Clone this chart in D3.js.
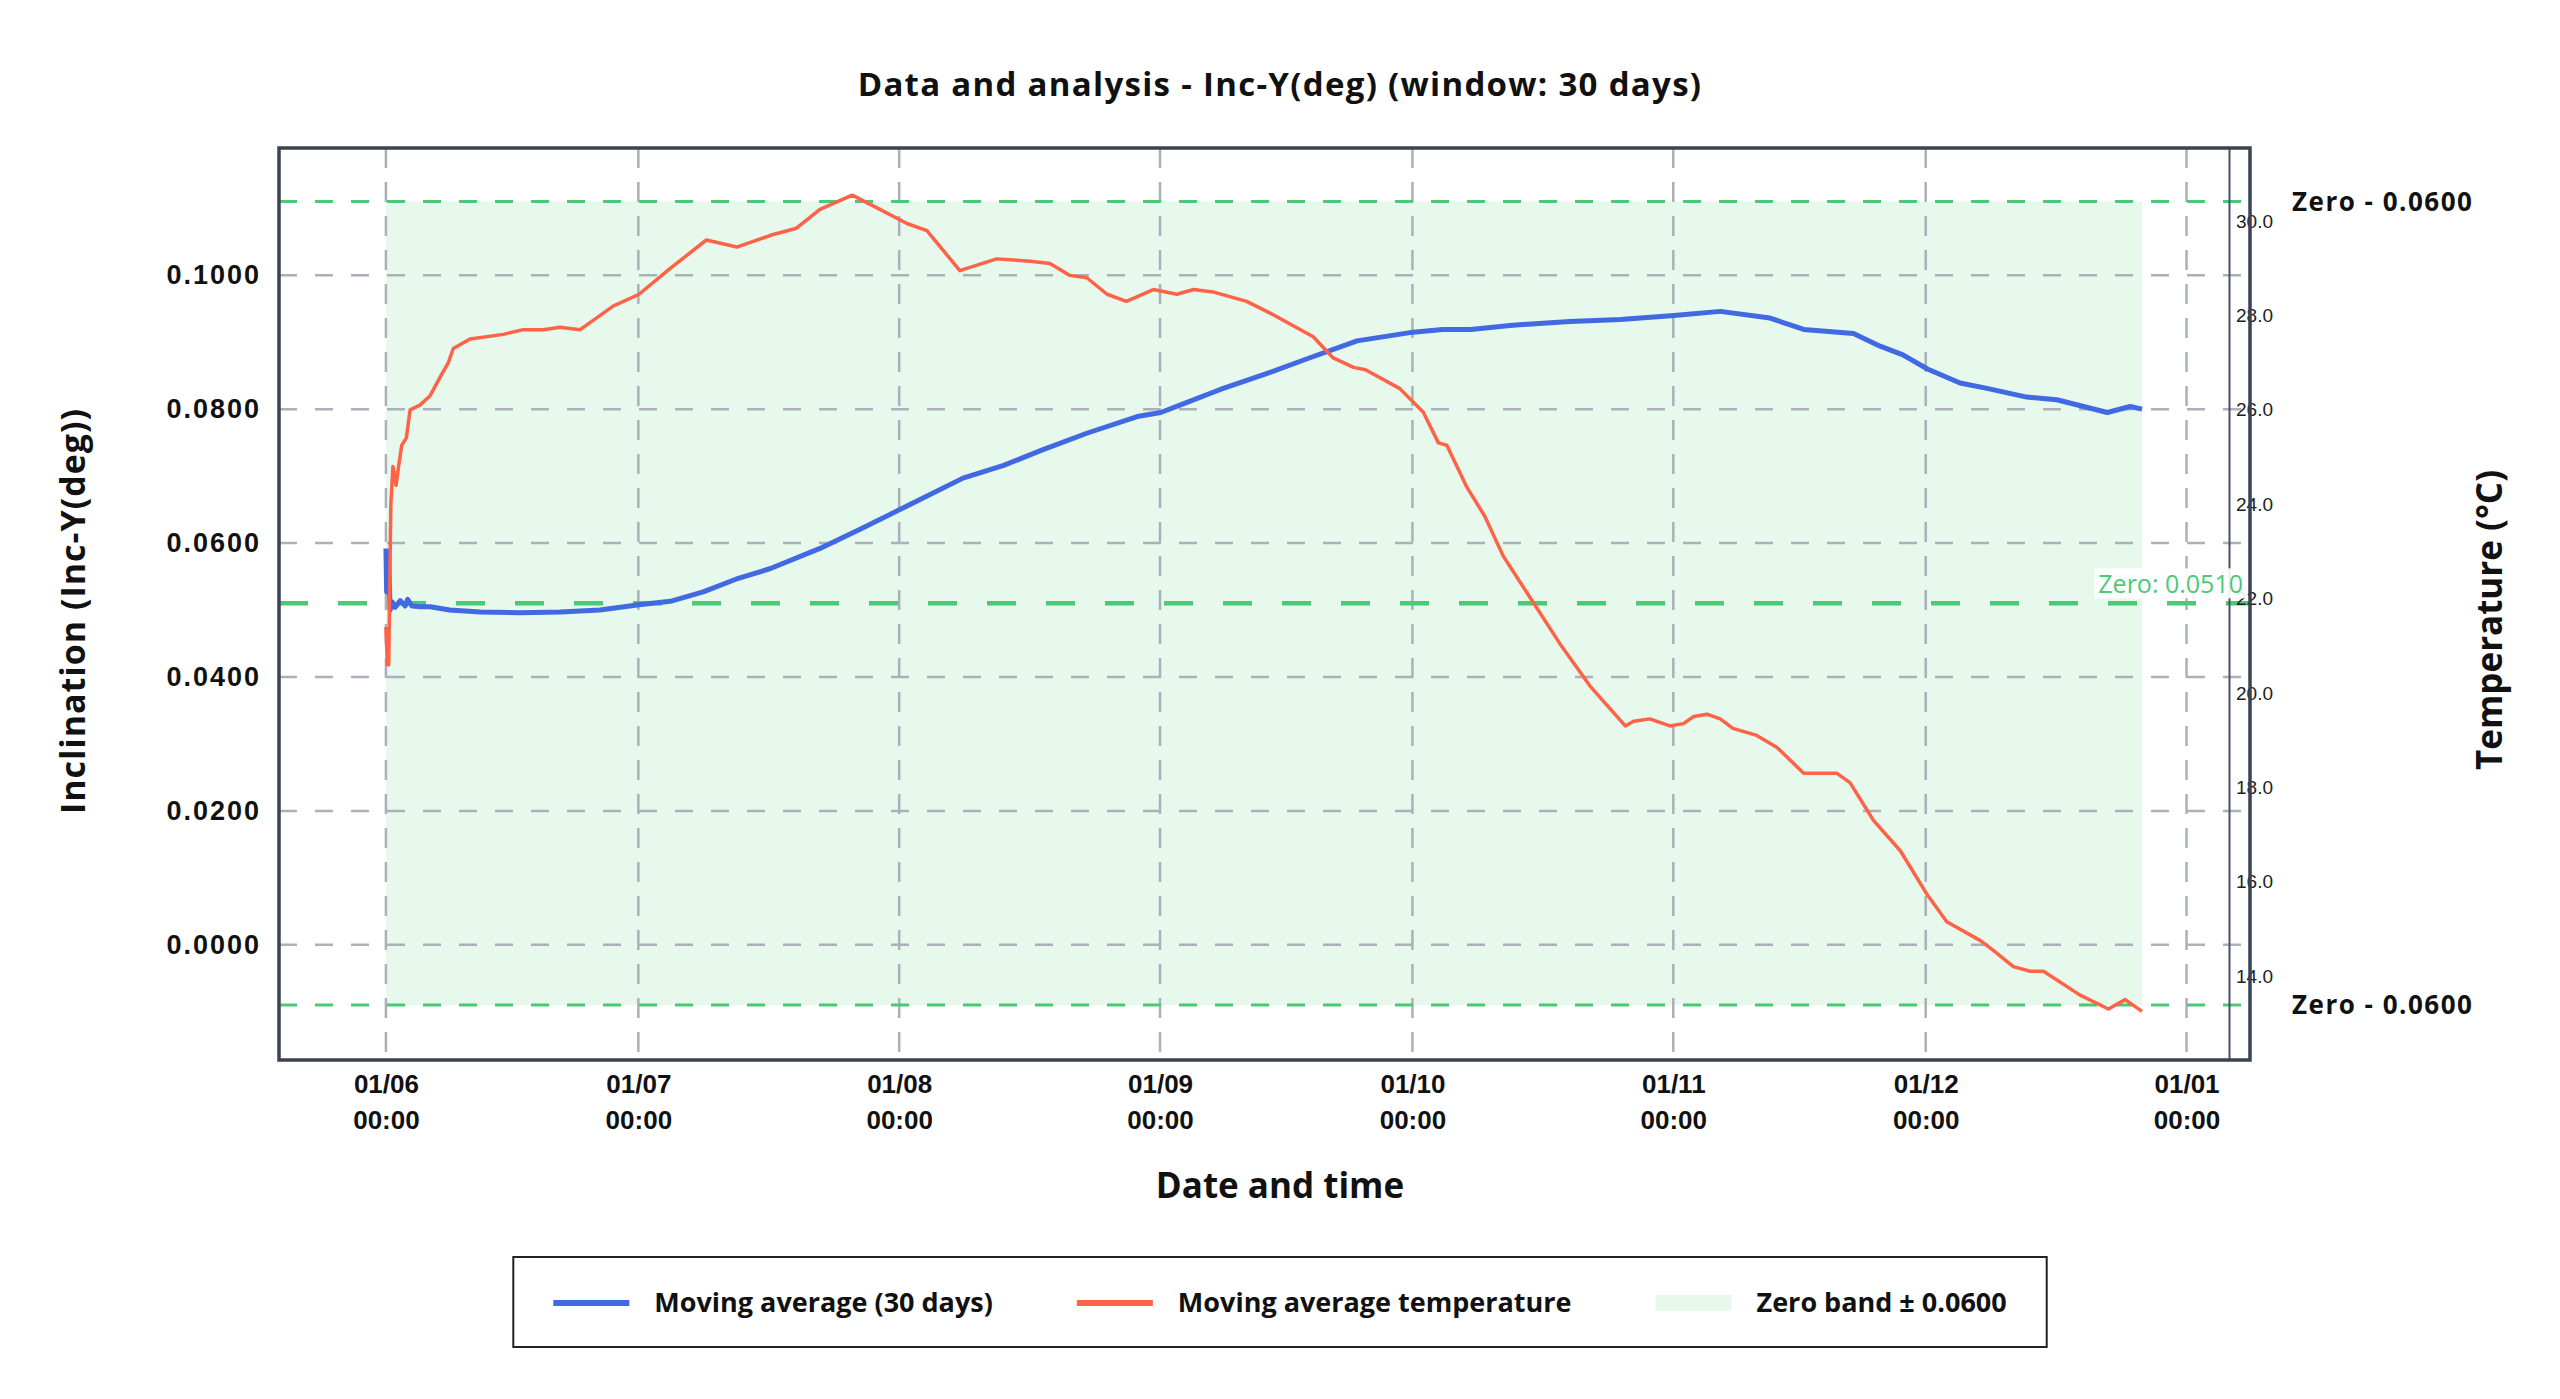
<!DOCTYPE html>
<html>
<head>
<meta charset="utf-8">
<script src="https://cdn.jsdelivr.net/npm/d3@7"></script>
<style>
  body { margin: 0; background: #fff; }
  svg { display: block; font-family: "Open Sans", sans-serif; }
</style>
</head>
<body>
<svg id="chart"></svg>
<script>
// moving average of Inc-Y (deg)
var incTimes = [
  "2024-06-01 00:00", "2024-06-01 02:00", "2024-06-01 04:00", "2024-06-01 06:00", "2024-06-01 08:00",
  "2024-06-01 12:00", "2024-06-01 18:00", "2024-06-02 02:00", "2024-06-02 17:00", "2024-06-03 07:00",
  "2024-06-03 14:00", "2024-06-04 02:00", "2024-06-05 02:00", "2024-06-06 06:00", "2024-06-08 14:00",
  "2024-06-12 05:00", "2024-06-16 22:00", "2024-06-21 17:00", "2024-06-26 10:00", "2024-07-01 02:00",
  "2024-07-04 19:00", "2024-07-08 17:00", "2024-07-12 14:00", "2024-07-16 17:00", "2024-07-22 14:00",
  "2024-07-27 10:00", "2024-08-01 02:00", "2024-08-08 14:00", "2024-08-13 10:00", "2024-08-17 19:00",
  "2024-08-23 07:00", "2024-08-29 07:00", "2024-09-01 02:00", "2024-09-04 05:00", "2024-09-08 02:00",
  "2024-09-14 02:00", "2024-09-18 00:00", "2024-09-24 10:00", "2024-10-01 02:00", "2024-10-04 14:00",
  "2024-10-07 22:00", "2024-10-12 14:00", "2024-10-19 17:00", "2024-10-25 17:00", "2024-11-01 02:00",
  "2024-11-06 14:00", "2024-11-12 12:00", "2024-11-16 12:00", "2024-11-22 10:00", "2024-11-25 14:00",
  "2024-11-28 07:00", "2024-12-01 05:00", "2024-12-05 02:00", "2024-12-08 07:00", "2024-12-13 00:00",
  "2024-12-16 14:00", "2024-12-22 14:00", "2024-12-25 07:00", "2024-12-26 17:00"
];
var incValues = [
  0.0592, 0.0527, 0.0588, 0.0530, 0.0575,
  0.0500, 0.0512, 0.0504, 0.0514, 0.0506,
  0.0516, 0.0506, 0.0505, 0.0505, 0.0500,
  0.0497, 0.0496, 0.0497, 0.0500, 0.0508,
  0.0513, 0.0527, 0.0546, 0.0562, 0.0592,
  0.0621, 0.0650, 0.0697, 0.0716, 0.0738,
  0.0764, 0.0789, 0.0795, 0.0810, 0.0829,
  0.0855, 0.0873, 0.0902, 0.0915, 0.0919,
  0.0919, 0.0925, 0.0931, 0.0934, 0.0940,
  0.0946, 0.0936, 0.0919, 0.0913, 0.0894,
  0.0881, 0.0860, 0.0839, 0.0831, 0.0818,
  0.0814, 0.0795, 0.0804, 0.0800
];

// moving average temperature (°C)
var tempTimes = [
  "2024-06-01 00:00", "2024-06-01 04:00", "2024-06-01 08:00", "2024-06-01 14:00", "2024-06-01 20:00",
  "2024-06-02 05:00", "2024-06-02 12:00", "2024-06-02 21:00", "2024-06-03 10:00", "2024-06-03 21:00",
  "2024-06-05 01:00", "2024-06-06 06:00", "2024-06-07 11:00", "2024-06-08 10:00", "2024-06-09 00:00",
  "2024-06-11 00:00", "2024-06-14 23:00", "2024-06-17 07:00", "2024-06-19 17:00", "2024-06-21 17:00",
  "2024-06-24 02:00", "2024-06-28 00:00", "2024-07-01 02:00", "2024-07-04 19:00", "2024-07-09 02:00",
  "2024-07-12 17:00", "2024-07-16 17:00", "2024-07-19 19:00", "2024-07-22 14:00", "2024-07-26 10:00",
  "2024-07-29 17:00", "2024-08-01 22:00", "2024-08-04 07:00", "2024-08-08 05:00", "2024-08-12 14:00",
  "2024-08-16 14:00", "2024-08-18 22:00", "2024-08-21 07:00", "2024-08-23 07:00", "2024-08-25 17:00",
  "2024-08-28 00:00", "2024-08-31 05:00", "2024-09-03 00:00", "2024-09-05 00:00", "2024-09-07 07:00",
  "2024-09-11 07:00", "2024-09-14 02:00", "2024-09-19 05:00", "2024-09-21 14:00", "2024-09-24 00:00",
  "2024-09-25 10:00", "2024-09-29 12:00", "2024-10-02 07:00", "2024-10-04 02:00", "2024-10-05 02:00",
  "2024-10-07 12:00", "2024-10-09 14:00", "2024-10-11 19:00", "2024-10-15 10:00", "2024-10-18 12:00",
  "2024-10-22 02:00", "2024-10-26 07:00", "2024-10-27 07:00", "2024-10-29 05:00", "2024-10-31 14:00",
  "2024-11-02 05:00", "2024-11-03 10:00", "2024-11-05 00:00", "2024-11-06 14:00", "2024-11-08 02:00",
  "2024-11-10 22:00", "2024-11-13 07:00", "2024-11-16 12:00", "2024-11-20 10:00", "2024-11-22 00:00",
  "2024-11-24 19:00", "2024-11-28 00:00", "2024-12-01 02:00", "2024-12-03 12:00", "2024-12-07 12:00",
  "2024-12-09 00:00", "2024-12-11 10:00", "2024-12-13 10:00", "2024-12-15 00:00", "2024-12-19 07:00",
  "2024-12-22 17:00", "2024-12-24 17:00", "2024-12-26 17:00"
];
var tempValues = [
  21.4, 20.6, 20.6, 24.0, 24.8,
  24.4, 24.8, 25.25, 25.4, 26.0,
  26.1, 26.3, 26.7, 27.0, 27.3,
  27.5, 27.6, 27.7, 27.7, 27.75,
  27.7, 28.2, 28.45, 29.0, 29.6,
  29.45, 29.7, 29.85, 30.25, 30.55,
  30.25, 29.95, 29.8, 28.95, 29.2,
  29.15, 29.1, 28.85, 28.8, 28.45,
  28.3, 28.55, 28.45, 28.55, 28.5,
  28.3, 28.05, 27.55, 27.1, 26.9,
  26.85, 26.45, 25.95, 25.3, 25.25,
  24.35, 23.75, 22.9, 21.9, 21.05,
  20.15, 19.3, 19.4, 19.45, 19.3,
  19.35, 19.5, 19.55, 19.45, 19.25,
  19.1, 18.85, 18.3, 18.3, 18.1,
  17.3, 16.65, 15.75, 15.15, 14.75,
  14.55, 14.2, 14.1, 14.1, 13.6,
  13.3, 13.5, 13.25
];

var incTicks = [0, 0.02, 0.04, 0.06, 0.08, 0.10];
var tempTicks = [14, 16, 18, 20, 22, 24, 26, 28, 30];
var zeroValue = 0.051,
    bandHalf = 0.06;
var timeSpan = ["2024-05-19 07:00", "2025-01-08 13:00"];
var legendLabels = ["Moving average (30 days)", "Moving average temperature", "Zero band \u00b1 0.0600"];

var width = 2560,
    height = 1399;
var plot = {left: 279, right: 2250, top: 148, bottom: 1060};

var blue = "#4169e1",
    red = "#ff6347",
    green = "#4cc877",
    bandFill = "#e7f8ed",
    gridColor = "#abb0ba",
    frameColor = "#3b4254";

var parse = d3.timeParse("%Y-%m-%d %H:%M");
var incData = incTimes.map(function(t, i) { return {t: parse(t), v: incValues[i]}; });
var tempData = tempTimes.map(function(t, i) { return {t: parse(t), v: tempValues[i]}; });

var svg = d3.select("#chart")
    .attr("width", width)
    .attr("height", height);

var x = d3.scaleTime()
    .domain(timeSpan.map(parse))
    .range([plot.left, plot.right]);

var y = d3.scaleLinear()
    .domain([-0.0172, 0.1190])
    .range([plot.bottom, plot.top]);

var yTemp = d3.scaleLinear()
    .domain([12.22, 31.55])
    .range([plot.bottom, plot.top]);

var months = x.ticks(d3.timeMonth.every(1));

// zero band, spans the data only
var first = incData[0].t,
    last = incData[incData.length - 1].t;
svg.append("rect")
    .attr("x", x(first))
    .attr("y", y(zeroValue + bandHalf))
    .attr("width", x(last) - x(first))
    .attr("height", y(zeroValue - bandHalf) - y(zeroValue + bandHalf))
    .attr("fill", bandFill);

// grid
svg.append("g").selectAll("line")
    .data(incTicks)
  .enter().append("line")
    .attr("x1", plot.left)
    .attr("x2", plot.right)
    .attr("y1", function(d) { return y(d); })
    .attr("y2", function(d) { return y(d); })
    .attr("stroke", gridColor)
    .attr("stroke-width", 2.5)
    .attr("stroke-dasharray", "18,18");

svg.append("g").selectAll("line")
    .data(months)
  .enter().append("line")
    .attr("x1", function(d) { return x(d); })
    .attr("x2", function(d) { return x(d); })
    .attr("y1", plot.top)
    .attr("y2", plot.bottom)
    .attr("stroke", gridColor)
    .attr("stroke-width", 2.5)
    .attr("stroke-dasharray", "20,14");

// band limits and zero line
svg.append("g").selectAll("line")
    .data([zeroValue + bandHalf, zeroValue - bandHalf])
  .enter().append("line")
    .attr("x1", plot.left)
    .attr("x2", plot.right)
    .attr("y1", function(d) { return y(d); })
    .attr("y2", function(d) { return y(d); })
    .attr("stroke", green)
    .attr("stroke-width", 3)
    .attr("stroke-dasharray", "18,18");

svg.append("line")
    .attr("x1", plot.left)
    .attr("x2", plot.right)
    .attr("y1", y(zeroValue))
    .attr("y2", y(zeroValue))
    .attr("stroke", green)
    .attr("stroke-width", 4.5)
    .attr("stroke-dasharray", "29,30");

// series
var incLine = d3.line()
    .x(function(d) { return x(d.t); })
    .y(function(d) { return y(d.v); });
var tempLine = d3.line()
    .x(function(d) { return x(d.t); })
    .y(function(d) { return yTemp(d.v); });

svg.append("path")
    .datum(incData)
    .attr("d", incLine)
    .attr("fill", "none")
    .attr("stroke", blue)
    .attr("stroke-width", 5)
    .attr("stroke-linejoin", "round");

svg.append("path")
    .datum(tempData)
    .attr("d", tempLine)
    .attr("fill", "none")
    .attr("stroke", red)
    .attr("stroke-width", 3.5)
    .attr("stroke-linejoin", "round");

// axes
var fmt4 = d3.format(".4f"),
    fmt1 = d3.format(".1f");

var leftAxis = svg.append("g")
    .attr("transform", "translate(" + plot.left + ",0)")
    .call(d3.axisLeft(y).tickValues(incTicks).tickFormat(fmt4).tickSize(0).tickPadding(18));
leftAxis.select(".domain").remove();
leftAxis.selectAll("text")
    .attr("font-size", 27)
    .attr("font-weight", 700)
    .attr("letter-spacing", 2)
    .attr("fill", "#111");

var tempAxisX = 2229;
var rightAxis = svg.append("g")
    .attr("transform", "translate(" + tempAxisX + ",0)")
    .call(d3.axisRight(yTemp).tickValues(tempTicks).tickFormat(fmt1).tickSize(0).tickSizeOuter(0).tickPadding(7));
rightAxis.select(".domain")
    .attr("stroke", "#4a5064")
    .attr("stroke-width", 2);
rightAxis.selectAll("text")
    .attr("font-size", 19)
    .attr("fill", "#222");

var fmtDay = d3.timeFormat("%d/%m"),
    fmtHour = d3.timeFormat("%H:%M");
var bottomAxis = svg.append("g")
    .attr("transform", "translate(0," + plot.bottom + ")")
    .call(d3.axisBottom(x).tickValues(months).tickFormat("").tickSize(0));
bottomAxis.select(".domain").remove();
bottomAxis.selectAll(".tick text")
    .attr("dy", null)
    .attr("font-size", 26)
    .attr("font-weight", 700)
    .attr("fill", "#111")
    .each(function(d) {
      var t = d3.select(this);
      t.append("tspan").attr("x", 0).attr("y", 33).text(fmtDay(d));
      t.append("tspan").attr("x", 0).attr("y", 69).text(fmtHour(d));
    });

// zero label on a white box
var zeroLabel = svg.append("g");
var zeroText = zeroLabel.append("text")
    .attr("x", 2243)
    .attr("y", y(zeroValue) - 10)
    .attr("text-anchor", "end")
    .attr("font-size", 25)
    .attr("fill", green)
    .text("Zero: " + fmt4(zeroValue));
var zb = zeroText.node().getBBox();
zeroLabel.insert("rect", "text")
    .attr("x", zb.x - 4)
    .attr("y", zb.y + 2)
    .attr("width", zb.width + 8)
    .attr("height", zb.height - 4)
    .attr("fill", "#fff")
    .attr("fill-opacity", 0.9);

// frame
svg.append("rect")
    .attr("x", plot.left)
    .attr("y", plot.top)
    .attr("width", plot.right - plot.left)
    .attr("height", plot.bottom - plot.top)
    .attr("fill", "none")
    .attr("stroke", frameColor)
    .attr("stroke-width", 3.5);

// band limit labels
svg.append("g").selectAll("text")
    .data([zeroValue + bandHalf, zeroValue - bandHalf])
  .enter().append("text")
    .attr("x", 2292)
    .attr("y", function(d) { return y(d); })
    .attr("dy", "0.35em")
    .attr("font-size", 26)
    .attr("font-weight", 700)
    .attr("letter-spacing", 1.5)
    .attr("fill", "#111")
    .text("Zero - " + fmt4(bandHalf));

// titles
svg.append("text")
    .attr("x", 1280)
    .attr("y", 96)
    .attr("text-anchor", "middle")
    .attr("font-size", 33)
    .attr("font-weight", 700)
    .attr("letter-spacing", 1.3)
    .attr("fill", "#111")
    .text("Data and analysis - Inc-Y(deg) (window: 30 days)");

svg.append("text")
    .attr("x", 1280)
    .attr("y", 1198)
    .attr("text-anchor", "middle")
    .attr("font-size", 35)
    .attr("font-weight", 700)
    .attr("fill", "#111")
    .text("Date and time");

svg.append("text")
    .attr("transform", "translate(73,611) rotate(-90)")
    .attr("text-anchor", "middle")
    .attr("dy", "0.35em")
    .attr("font-size", 34)
    .attr("font-weight", 700)
    .attr("letter-spacing", 1)
    .attr("fill", "#111")
    .text("Inclination (Inc-Y(deg))");

svg.append("text")
    .attr("transform", "translate(2490,620) rotate(-90)")
    .attr("text-anchor", "middle")
    .attr("dy", "0.35em")
    .attr("font-size", 35)
    .attr("font-weight", 700)
    .attr("fill", "#111")
    .text("Temperature (\u00b0C)");

// legend
var legendY = 1303,
    sampleW = 76,
    sampleGap = 25,
    itemGap = 84;
var legend = svg.append("g");
var legendBox = legend.append("rect")
    .attr("y", 1257)
    .attr("height", 90)
    .attr("fill", "#fff")
    .attr("stroke", "#222")
    .attr("stroke-width", 2);

var items = legend.selectAll("g.item")
    .data(legendLabels)
  .enter().append("g")
    .attr("class", "item");
items.append("text")
    .attr("x", sampleW + sampleGap)
    .attr("y", legendY)
    .attr("dy", "0.35em")
    .attr("font-size", 27)
    .attr("font-weight", 700)
    .attr("fill", "#111")
    .text(function(d) { return d; });

var offsets = [], total = 0;
items.each(function(d, i) {
  var w = sampleW + sampleGap + d3.select(this).select("text").node().getComputedTextLength();
  offsets.push({x: total, w: w});
  total += w + (i < legendLabels.length - 1 ? itemGap : 0);
});
var legendLeft = 1280 - total / 2;
items.attr("transform", function(d, i) { return "translate(" + (legendLeft + offsets[i].x) + ",0)"; });
legendBox
    .attr("x", legendLeft - 40)
    .attr("width", total + 80);

items.filter(function(d, i) { return i < 2; }).append("line")
    .attr("x1", 0)
    .attr("x2", sampleW)
    .attr("y1", legendY)
    .attr("y2", legendY)
    .attr("stroke", function(d, i) { return i === 0 ? blue : red; })
    .attr("stroke-width", 6);
items.filter(function(d, i) { return i === 2; }).append("rect")
    .attr("x", 0)
    .attr("y", legendY - 8)
    .attr("width", sampleW)
    .attr("height", 16)
    .attr("fill", bandFill);
</script>
</body>
</html>
